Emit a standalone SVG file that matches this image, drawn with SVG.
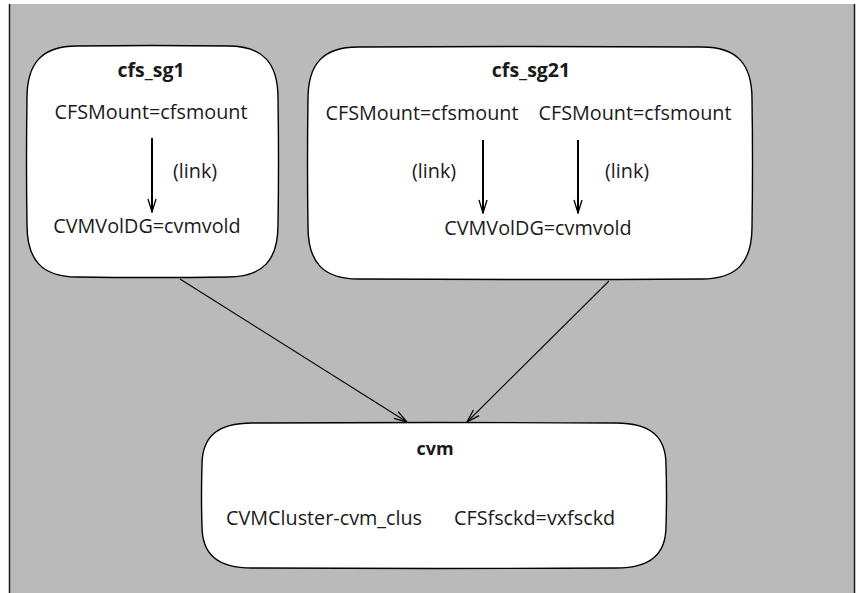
<svg xmlns="http://www.w3.org/2000/svg" width="860" height="593" viewBox="0 0 860 593">
<style>
.bg{fill:#bababa}
.edge{stroke:#1a1a1a;stroke-width:1.5}
.node{fill:#ffffff;stroke:#000000;stroke-width:1.4}
.t{font-family:"Open Sans","Noto Sans","Liberation Sans",sans-serif;font-size:19.8px;fill:#1a1a1a}
.b{font-weight:bold;font-size:19.5px}
.s{font-size:18px}
.m{text-anchor:middle}
.in{stroke:#000;stroke-width:2;fill:none}
.out{stroke:#000;stroke-width:1.1;fill:none}
</style>
<defs>
<marker id="ah" viewBox="-15 -6 16 12" refX="0" refY="0" markerWidth="16" markerHeight="12" markerUnits="userSpaceOnUse" orient="auto">
<path d="M-13,-4 L0,0 L-13,4" fill="none" stroke="#000" stroke-width="1.3"/>
</marker>
</defs>
<rect x="0" y="0" width="860" height="593" fill="#ffffff"/>
<rect class="bg" x="10" y="4" width="844" height="589"/>
<line class="edge" x1="9.5" y1="4" x2="9.5" y2="593"/>
<line class="edge" x1="854.5" y1="4" x2="854.5" y2="593"/>

<g id="cfs_sg1">
<path class="node" d="M77,46 Q152.5,45 228,46 C263,46 278,63 278,98 Q279,161.5 278,225 C278,260 263,277 228,277 Q152.5,278 77,277 C42,277 27,260 27,225 Q26,161.5 27,98 C27,63 42,46 77,46 Z"/>
<text class="t b m" x="151" y="77">cfs_sg1</text>
<text class="t m" x="151" y="119">CFSMount=cfsmount</text>
<text class="t" x="173" y="178">(link)</text>
<text class="t m" x="147" y="233">CVMVolDG=cvmvold</text>
</g>

<g id="cfs_sg21">
<path class="node" d="M358,47 Q530,46 702,47 C737,47 752,64 752,99 Q753,163 752,227 C752,262 737,279 702,279 Q530,280 358,279 C323,279 308,262 308,227 Q307,163 308,99 C308,64 323,47 358,47 Z"/>
<text class="t b m" x="531" y="77">cfs_sg21</text>
<text class="t m" x="422" y="120">CFSMount=cfsmount</text>
<text class="t m" x="635" y="120">CFSMount=cfsmount</text>
<text class="t" x="412" y="178">(link)</text>
<text class="t" x="605" y="178">(link)</text>
<text class="t m" x="538" y="235">CVMVolDG=cvmvold</text>
</g>

<g id="cvm">
<path class="node" d="M252,423 Q434,422 616,423 C651,423 666,437 666,465 Q667,495.5 666,526 C666,554 651,568 616,568 Q434,569 252,568 C217,568 202,554 202,526 Q201,495.5 202,465 C202,437 217,423 252,423 Z"/>
<text class="t b s m" x="435" y="455">cvm</text>
<text class="t" x="226" y="525">CVMCluster-cvm_clus</text>
<text class="t" x="454" y="525">CFSfsckd=vxfsckd</text>
</g>

<g id="connectors">
<line class="in" x1="152" y1="138" x2="152" y2="212" marker-end="url(#ah)"/>
<line class="in" x1="483" y1="140" x2="483" y2="213" marker-end="url(#ah)"/>
<line class="in" x1="578" y1="140" x2="578" y2="213" marker-end="url(#ah)"/>
<line class="out" x1="180" y1="279" x2="407" y2="422" marker-end="url(#ah)"/>
<line class="out" x1="609" y1="281" x2="467" y2="422" marker-end="url(#ah)"/>
</g>
</svg>
